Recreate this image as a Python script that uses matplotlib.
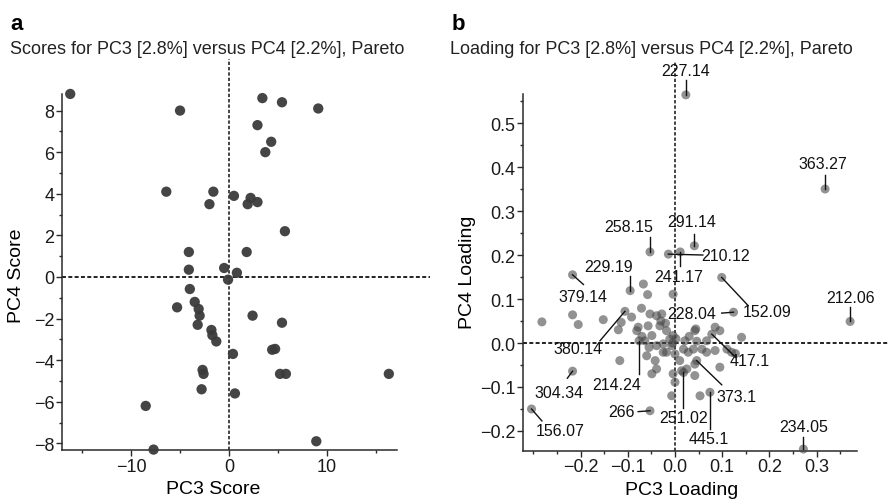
import matplotlib
matplotlib.use("Agg")
import matplotlib.pyplot as plt
from matplotlib.ticker import FixedLocator

plt.rcParams['font.family'] = ['Liberation Sans', 'DejaVu Sans']

# ---------------- data: panel a (scores) ----------------
score_pc3 = [-16.2, -5.0, 3.4, 5.4, 9.1, 2.9, 4.3, 3.7, -6.4, -1.6, -2.0, 0.5, 2.2, 1.9, 2.9,
             5.7, -4.1, 1.8, -4.1, -0.5, 0.8, -0.1, -4.0, -5.3, -3.5, -3.1, -3.0, -3.2, -1.8,
             -1.7, -1.3, 2.4, 5.4, 0.4, 4.4, 4.7, -2.7, -2.6, 5.2, 5.8, 16.3, -2.8, 0.6, -8.5,
             8.9, -7.7]
score_pc4 = [8.8, 8.0, 8.6, 8.4, 8.1, 7.3, 6.5, 6.0, 4.1, 4.1, 3.5, 3.9, 3.8, 3.5, 3.6,
             2.2, 1.2, 1.2, 0.35, 0.43, 0.2, -0.13, -0.58, -1.46, -1.2, -1.54, -1.86, -2.3, -2.55,
             -2.8, -3.1, -1.86, -2.2, -3.7, -3.5, -3.46, -4.47, -4.66, -4.66, -4.66, -4.66, -5.4, -5.6, -6.2,
             -7.9, -8.3]

# ---------------- data: panel b (loadings) ----------------
# labelled variables
lab_names = ['227.14', '363.27', '212.06', '258.15', '291.14', '210.12', '241.17', '229.19',
             '379.14', '152.09', '228.04', '380.14', '304.34', '156.07', '214.24', '266',
             '251.02', '445.1', '373.1', '417.1', '234.05']
lab_pc3 = [0.023, 0.318, 0.371, -0.053, 0.041, -0.014, 0.011, -0.095,
           -0.217, 0.099, 0.124, -0.106, -0.217, -0.304, -0.076, -0.053,
           0.018, 0.074, 0.046, 0.078, 0.272]
lab_pc4 = [0.564, 0.350, 0.049, 0.207, 0.221, 0.202, 0.207, 0.119,
           0.155, 0.149, 0.070, 0.072, -0.064, -0.150, 0.005, -0.154,
           -0.067, -0.112, -0.040, 0.020, -0.241]

# unlabelled variables
other_pc3 = [-0.282, -0.217, -0.205, -0.152, -0.120, -0.114, -0.117, -0.092, -0.071, -0.067,
             -0.058, -0.081, -0.078, -0.064, -0.057, -0.053, -0.049, -0.039, -0.030, -0.032,
             -0.039, -0.060, -0.042, -0.049, -0.039, -0.025, -0.018, -0.018, -0.025, -0.011,
             -0.007, -0.004, 0.000, -0.028, -0.004, 0.021, 0.018, 0.042, 0.046, 0.039,
             0.028, 0.057, 0.067, 0.067, 0.085, 0.085, 0.095, 0.110, 0.120, 0.128,
             0.141, 0.095, 0.042, 0.025, 0.014, -0.004, 0.000, -0.007, 0.042, 0.053,
             0.044, -0.070, -0.055, -0.020, 0.010, 0.030, -0.005, 0.002]
other_pc4 = [0.048, 0.064, 0.042, 0.053, 0.030, 0.047, -0.040, 0.059, 0.079, 0.134,
             0.110, 0.028, 0.036, 0.005, 0.039, 0.066, 0.017, 0.062, 0.050, 0.039,
             -0.006, -0.029, -0.040, -0.070, -0.059, -0.002, 0.028, -0.021, -0.021, 0.009,
             -0.006, 0.017, -0.025, 0.066, 0.111, 0.005, -0.014, 0.028, 0.004, -0.014,
             -0.021, -0.014, 0.005, -0.021, -0.017, 0.036, 0.028, -0.014, -0.021, -0.024,
             0.013, -0.055, -0.048, -0.059, -0.063, -0.070, -0.089, -0.120, -0.074, -0.120,
             0.032, 0.015, -0.010, 0.045, -0.040, 0.015, 0.000, 0.010]

# label layout: text centre and start of the leader line (data units)
lab_text_x = [0.023, 0.314, 0.371, -0.099, 0.035, 0.108, 0.007, -0.141,
              -0.196, 0.196, 0.035, -0.205, -0.245, -0.244, -0.124, -0.113,
              0.018, 0.071, 0.131, 0.159, 0.272]
lab_text_y = [0.619, 0.407, 0.104, 0.264, 0.276, 0.200, 0.151, 0.174,
              0.106, 0.071, 0.068, -0.012, -0.112, -0.199, -0.095, -0.156,
              -0.169, -0.218, -0.121, -0.040, -0.189]
lead_x = [0.023, 0.318, 0.371, -0.053, 0.041, 0.059, 0.011, -0.095,
          -0.194, 0.155, 0.099, -0.159, -0.228, -0.282, -0.076, -0.078,
          0.018, 0.074, 0.099, 0.129, 0.272]
lead_y = [0.598, 0.382, 0.081, 0.240, 0.248, 0.200, 0.174, 0.153,
          0.133, 0.085, 0.068, 0.005, -0.080, -0.177, -0.070, -0.156,
          -0.148, -0.195, -0.095, -0.033, -0.214]

W, H = 889, 502
fig = plt.figure(figsize=(W / 100, H / 100), dpi=100)


def px_axes(left, top, right, bottom):
    return fig.add_axes([left / W, (H - bottom) / H, (right - left) / W, (bottom - top) / H])


def style_axes(ax, xb, yb):
    for s in ['top', 'right']:
        ax.spines[s].set_visible(False)
    for s in ['left', 'bottom']:
        ax.spines[s].set_color('#2a2a2a')
        ax.spines[s].set_linewidth(1.1)
    ax.spines['bottom'].set_bounds(*xb)
    ax.spines['left'].set_bounds(*yb)
    ax.tick_params(which='major', direction='out', length=4, width=1, color='#2a2a2a',
                   labelsize=13, pad=1.5, labelcolor='#1a1a1a')
    ax.tick_params(which='minor', direction='out', length=2.5, width=1, color='#2a2a2a')
    ax.patch.set_alpha(0)


dash = (0, (2.2, 1.3))

# ---------------- panel a ----------------
ax1 = px_axes(62, 60, 430, 451)
ax1.set_xlim(-17.04, 20.5)
ax1.set_ylim(-8.32, 10.48)
style_axes(ax1, (-17.04, 17.1), (-8.32, 8.8))
ax1.xaxis.set_major_locator(FixedLocator([-10, 0, 10]))
ax1.xaxis.set_minor_locator(FixedLocator([-15, -5, 5, 15]))
ax1.yaxis.set_major_locator(FixedLocator([-8, -6, -4, -2, 0, 2, 4, 6, 8]))
ax1.yaxis.set_minor_locator(FixedLocator([-7, -5, -3, -1, 1, 3, 5, 7]))
ax1.set_xticklabels(['\u221210', '0', '10'])
ax1.set_yticklabels(['\u22128', '\u22126', '\u22124', '\u22122', '0', '2', '4', '6', '8'])
ax1.axhline(0, color='#111111', lw=1.3, ls=dash, zorder=1)
ax1.axvline(0, color='#111111', lw=1.1, ls=dash, zorder=1)
ax1.scatter(score_pc3, score_pc4, s=55, marker='o', color='#3b3b3b', edgecolors='none',
            alpha=0.95, zorder=3, clip_on=False)

fig.text(10 / W, 1 - 24 / H, 'a', fontsize=16, fontweight='bold', va='center', ha='left')
fig.text(10 / W, 1 - 50 / H, 'Scores for PC3 [2.8%] versus PC4 [2.2%], Pareto',
         fontsize=13, va='center', ha='left', color='#222222')
fig.text(213 / W, 1 - 490 / H, 'PC3 Score', fontsize=14, ha='center', va='center')
fig.text(17 / W, 1 - 276 / H, 'PC4 Score', fontsize=14, ha='center', va='center', rotation=90)

# ---------------- panel b ----------------
ax2 = px_axes(523.3, 62, 889, 451.7)
ax2.set_xlim(-0.3214, 0.4534)
ax2.set_ylim(-0.2448, 0.641)
style_axes(ax2, (-0.3214, 0.386), (-0.2448, 0.566))
ax2.xaxis.set_major_locator(FixedLocator([-0.2, -0.1, 0.0, 0.1, 0.2, 0.3]))
ax2.xaxis.set_minor_locator(FixedLocator([-0.3, -0.25, -0.15, -0.05, 0.05, 0.15, 0.25, 0.35]))
ax2.yaxis.set_major_locator(FixedLocator([-0.2, -0.1, 0.0, 0.1, 0.2, 0.3, 0.4, 0.5]))
ax2.yaxis.set_minor_locator(FixedLocator([-0.15, -0.05, 0.05, 0.15, 0.25, 0.35, 0.45, 0.55]))
ax2.set_xticklabels(['\u22120.2', '\u22120.1', '0.0', '0.1', '0.2', '0.3'])
ax2.set_yticklabels(['\u22120.2', '\u22120.1', '0.0', '0.1', '0.2', '0.3', '0.4', '0.5'])
ax2.axhline(0, color='#111111', lw=1.3, ls=dash, zorder=1)
ax2.axvline(0, color='#111111', lw=1.1, ls=dash, zorder=1)

ax2.scatter(other_pc3, other_pc4, s=42, marker='o', color='#4a4a4a', edgecolors='none',
            alpha=0.6, zorder=3)
ax2.scatter(lab_pc3, lab_pc4, s=42, marker='o', color='#4a4a4a', edgecolors='none',
            alpha=0.6, zorder=3, clip_on=False)

narrow = ['Liberation Sans Narrow', 'Liberation Sans', 'DejaVu Sans']
for name, px_, py_, tx, ty, lx, ly in zip(lab_names, lab_pc3, lab_pc4, lab_text_x, lab_text_y,
                                          lead_x, lead_y):
    ax2.plot([lx, px_], [ly, py_], color='#111111', lw=1.0, zorder=4, clip_on=False)
    ax2.text(tx, ty, name, fontsize=11.5, family=narrow, ha='center', va='center',
             color='#111111', zorder=5, clip_on=False)

fig.text(452 / W, 1 - 24 / H, 'b', fontsize=16, fontweight='bold', va='center', ha='left')
fig.text(450 / W, 1 - 50 / H, 'Loading for PC3 [2.8%] versus PC4 [2.2%], Pareto',
         fontsize=13, va='center', ha='left', color='#222222')
fig.text(682 / W, 1 - 491 / H, 'PC3 Loading', fontsize=14, ha='center', va='center')
fig.text(468 / W, 1 - 272 / H, 'PC4 Loading', fontsize=14, ha='center', va='center', rotation=90)

fig.savefig('out.png', dpi=100)
